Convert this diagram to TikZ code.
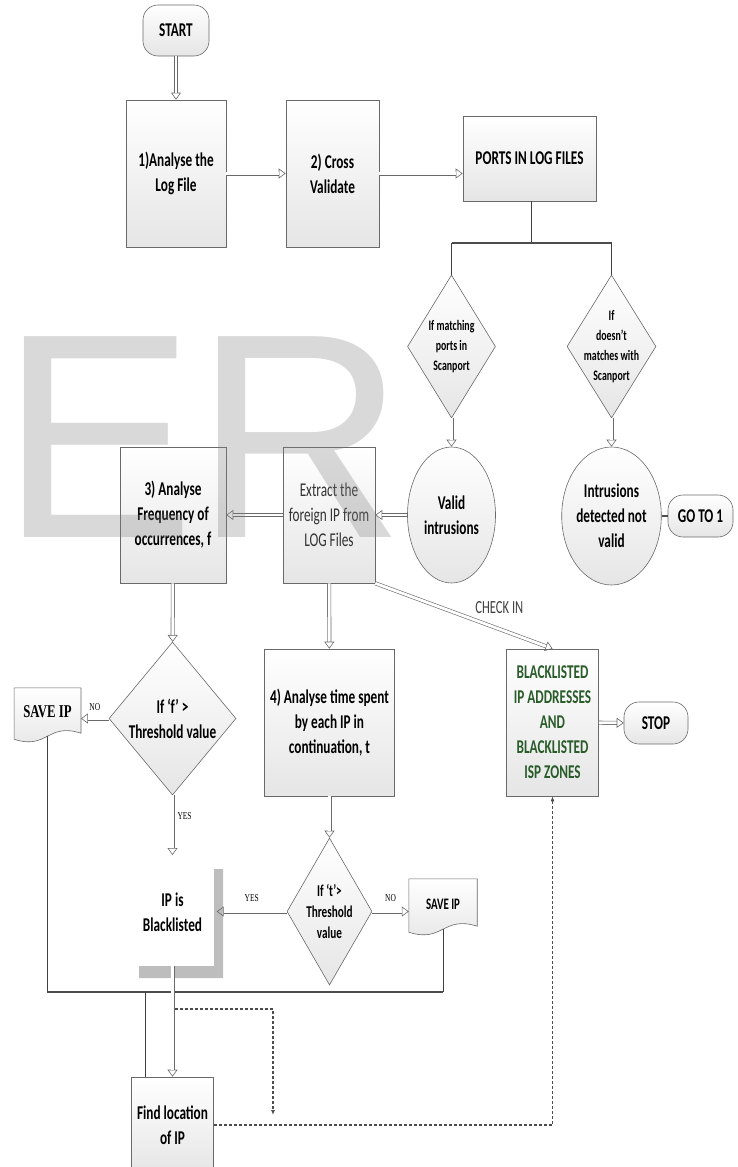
\documentclass[tikz,border=0pt]{standalone}
\usepackage{fontspec}
\setmainfont{Carlito}[FakeStretch=0.68]
\newfontfamily\timesc{Liberation Serif}[FakeStretch=0.71]
\newfontfamily\wmfont{Liberation Sans}
\usepackage{xcolor}
\usetikzlibrary{positioning, arrows.meta, shapes.geometric, calc, backgrounds}

\definecolor{edgegray}{RGB}{105,105,105}
\definecolor{blgreen}{RGB}{42,92,42}

% outline of a document shape round a node
\newcommand{\docshape}[1]{%
  \draw[docline] (#1.north west) -- (#1.north east) -- ([yshift=3pt]#1.south east)
    .. controls ($(#1.south)+(0,14pt)$) and ($(#1.south)+(0,-14pt)$) .. ([yshift=-3pt]#1.south west) -- cycle;}

\begin{document}
\begin{tikzpicture}[x=1pt, y=-1pt,
  every node/.style={inner sep=0pt, align=center, font=\bfseries\fontsize{19.5}{25}\selectfont},
  box/.style={draw=edgegray, line width=0.6pt, top color=white, bottom color=black!10},
  term/.style={box, rounded corners=15pt},
  decision/.style={box, diamond},
  oval/.style={box, ellipse},
  docline/.style={draw=edgegray, line width=0.6pt, top color=white, bottom color=black!10},
  small/.style={font=\bfseries\fontsize{14.5}{20}\selectfont},
  yesno/.style={font=\timesc\fontsize{10.5}{12}\selectfont},
  dbl/.style={draw=edgegray, line width=4pt,
    -{Triangle[open, length=7pt, width=10pt, line width=0.6pt]},
    postaction={draw=white, line width=2.8pt, -, shorten >=7pt}},
  link/.style={draw=black!75, line width=0.8pt},
  bar/.style={draw=black!70, line width=2.2pt},
  dashlink/.style={draw=black!70, line width=1.2pt, dash pattern=on 3pt off 2pt,
    -{Latex[length=5pt, width=4pt]}},
  wm/.style={font=\wmfont\fontsize{292}{292}\selectfont, text=black!50, text opacity=0.3}
]
\useasboundingbox (0,0) rectangle (738,1167);

% top row
\node[term, minimum width=66pt, minimum height=51pt] (start) at (176,30.5) {START};
\node[box, minimum width=100pt, minimum height=147pt] (an1) at (176,173.5) {1)Analyse the\\Log File};
\node[box, minimum width=93pt, minimum height=147pt] (cross) at (332.5,173.5) {2) Cross\\Validate};
\node[box, minimum width=133pt, minimum height=85pt] (ports) at (529.5,158.5) {PORTS IN LOG FILES};

% port checks
\node[decision, minimum width=88pt, minimum height=143pt,
  label={[small]center:If matching\\ports in\\Scanport}] (match) at (451.5,346.5) {};
\node[decision, minimum width=89pt, minimum height=143pt,
  label={[small]center:If\\doesn’t\\matches with\\Scanport}] (nomatch) at (611.5,346.5) {};
\node[oval, minimum width=88pt, minimum height=136pt] (valid) at (451.5,515) {Valid\\intrusions};
\node[oval, minimum width=85pt, minimum height=138pt] (notvalid) at (611.5,516) {Intrusions\\detected not\\valid};
\node[term, minimum width=65pt, minimum height=42pt] (goto) at (700.5,516) {GO TO 1};

% middle row
\node[box, minimum width=92pt, minimum height=136pt, font=\fontsize{19.5}{25}\selectfont, text=black!80] (extract) at (329,515) {Extract the\\foreign IP from\\LOG Files};
\node[box, minimum width=106pt, minimum height=136pt] (freq) at (173,515) {3) Analyse\\Frequency of\\occurrences, f};
\node[decision, minimum width=127pt, minimum height=153pt,
  label={center:If ‘f’ >\\Threshold value}] (fdec) at (172.5,718.5) {};
\node[minimum width=66.5pt, minimum height=48pt, font=\timesc\bfseries\fontsize{18}{20}\selectfont] (saveA) at (47.5,712) {SAVE IP};
\node[box, minimum width=130pt, minimum height=147pt] (time) at (329.5,722.5) {4) Analyse time spent\\by each IP in\\continuation, t};
\node[box, minimum width=92pt, minimum height=147pt, text=blgreen] (black) at (552.5,722.5) {BLACKLISTED\\IP ADDRESSES\\AND\\BLACKLISTED\\ISP ZONES};
\node[term, minimum width=64pt, minimum height=42pt] (stop) at (656,723) {STOP};

% lower row
\node[decision, minimum width=85pt, minimum height=147pt,
  label={[font=\bfseries\fontsize{16.5}{21}\selectfont]center:If ‘t’>\\Threshold\\value}] (tdec) at (329.5,911.5) {};
\node[minimum width=68pt, minimum height=50pt, font=\bfseries\fontsize{16}{20}\selectfont] (saveB) at (443,904) {SAVE IP};
\node[minimum width=88pt, minimum height=108pt] (ipbl) at (172.5,912) {IP is\\Blacklisted};
\node[box, minimum width=82pt, minimum height=96pt] (find) at (172.5,1125) {Find location\\of IP};

\begin{pgfonlayer}{background}
  \docshape{saveA}
  \docshape{saveB}
\end{pgfonlayer}

\fill[black!26] (214,869) -- (223,869) -- (223,978) -- (139,978) -- (139,966) -- (214,966) -- cycle;

% connectors
\draw[dbl] (start) -- (an1);
\draw[dbl] (an1) -- (cross);
\draw[dbl] (cross) -- (cross -| ports.west);
\coordinate (jn) at (531,243);
\draw[link] (ports.south -| jn) -- (jn);
\draw[bar] (match.north |- jn) -- (nomatch.north |- jn);
\draw[link] (match.north |- jn) -- (match.north);
\draw[link] (nomatch.north |- jn) -- (nomatch.north);
\draw[dbl] (match) -- (valid);
\draw[dbl] (nomatch) -- (notvalid);
\draw[bar] (notvalid) -- (goto);
\draw[dbl] (valid) -- (extract);
\draw[dbl] (extract) -- (freq);
\draw[dbl] (freq) -- (fdec);
\draw[dbl] (fdec.west) -- (fdec.west -| saveA.east) node[yesno, midway, above=6pt] {NO};
\coordinate (yesend) at (172.5,855);
\draw[dbl] (fdec.south) -- (yesend) node[yesno, pos=0.35, right=3pt] {YES};
\draw[dbl] (extract) -- (time);
\draw[dbl] (extract.south east) -- (black.north)
  node[pos=0.7, above=13pt, font=\fontsize{18.5}{20}\selectfont, text=black!75] {CHECK IN};
\draw[dbl] (black) -- (stop);
\draw[dbl] (time) -- (tdec);
\draw[dbl] (tdec.west) -- (tdec.west -| ipbl.east) node[yesno, midway, above=8pt] {YES};
\draw[dbl] (tdec.east) -- (tdec.east -| saveB.west) node[yesno, midway, above=8pt] {NO};

\coordinate (b2l) at (47,992);
\coordinate (b2r) at (443,992);
\draw[link] (saveA.south) -- (saveA.south |- b2l);
\draw[link] (saveB.south) -- (saveB.south |- b2r);
\draw[bar] (b2l) -- (b2r);
\draw[dbl] (ipbl) -- (find);
\draw[link] ([xshift=14pt]find.north west) -- ([xshift=14pt]find.north west |- b2l);
\coordinate (dstart) at (175,1009);
\coordinate (dend) at (273,1115);
\draw[dashlink] (dstart) -| (dend);
\draw[dashlink] (find.east) -| (black.south);

% watermark
\node[wm, anchor=base west] (mark) at (0,537) {ER};
\end{tikzpicture}
\end{document}
